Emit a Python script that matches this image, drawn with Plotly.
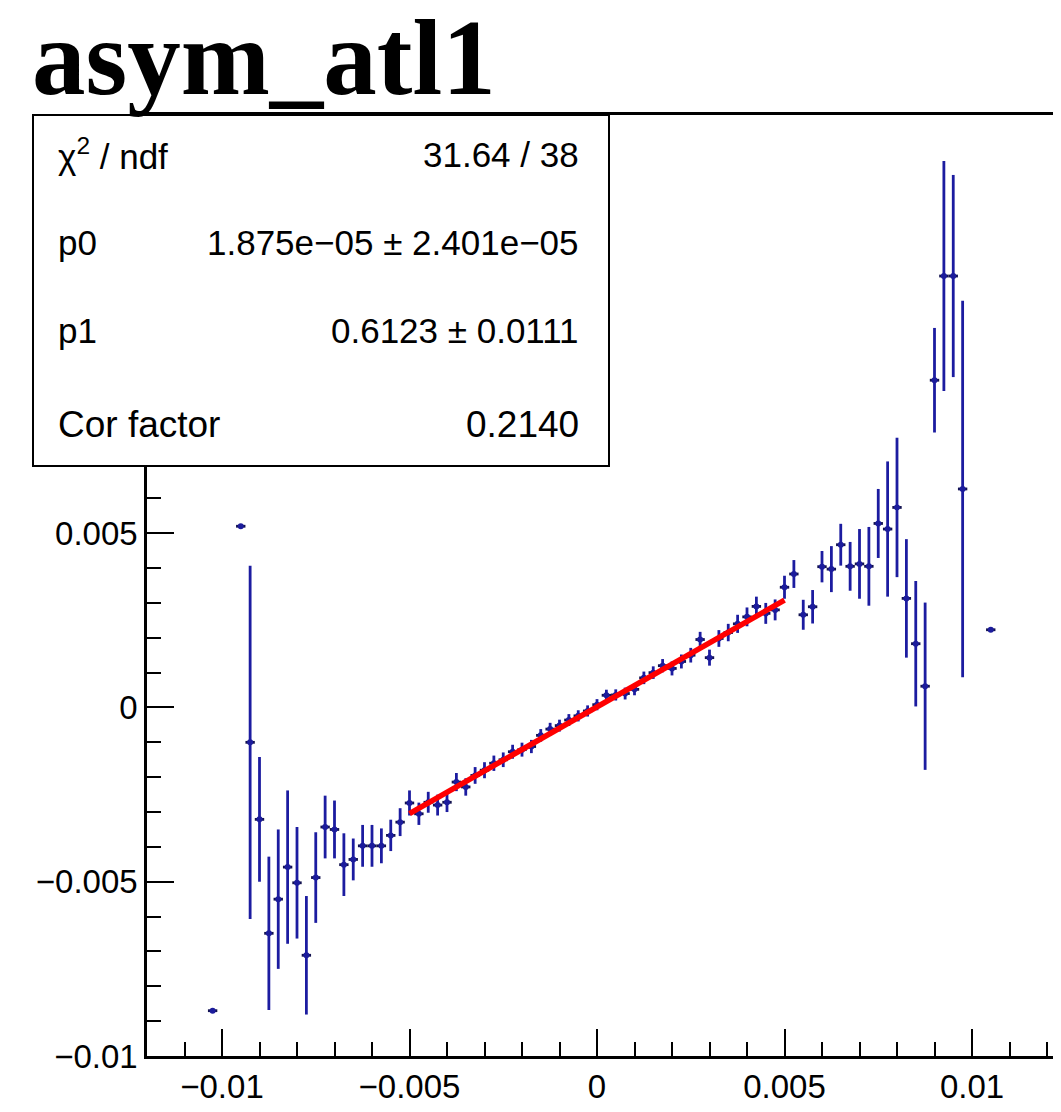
import plotly.graph_objects as go

# ---- data ----
bin_centers = [
    -0.01025, -0.0095, -0.00925, -0.009, -0.00875, -0.0085, -0.00825, -0.008,
    -0.00775, -0.0075, -0.00725, -0.007, -0.00675, -0.0065, -0.00625, -0.006,
    -0.00575, -0.0055, -0.00525, -0.005, -0.00475, -0.0045, -0.00425, -0.004,
    -0.00375, -0.0035, -0.00325, -0.003, -0.00275, -0.0025, -0.00225, -0.002,
    -0.00175, -0.0015, -0.00125, -0.001, -0.00075, -0.0005, -0.00025, 0.0,
    0.00025, 0.0005, 0.00075, 0.001, 0.00125, 0.0015, 0.00175, 0.002,
    0.00225, 0.0025, 0.00275, 0.003, 0.00325, 0.0035, 0.00375, 0.004,
    0.00425, 0.0045, 0.00475, 0.005, 0.00525, 0.0055, 0.00575, 0.006,
    0.00625, 0.0065, 0.00675, 0.007, 0.00725, 0.0075, 0.00775, 0.008,
    0.00825, 0.0085, 0.00875, 0.009, 0.00925, 0.0095, 0.00975, 0.0105,
]
asym_mean = [
    -0.0087, 0.0052, -0.0010, -0.00321, -0.00648, -0.0055, -0.00458, -0.00503,
    -0.00711, -0.00488, -0.00343, -0.0035, -0.00451, -0.00436, -0.00397, -0.00397,
    -0.00397, -0.00367, -0.00329, -0.00274, -0.00305, -0.00272, -0.00280, -0.00272,
    -0.00214, -0.00228, -0.00195, -0.0018, -0.00160, -0.0015, -0.00127, -0.00121,
    -0.00112, -0.00080, -0.00062, -0.00052, -0.00036, -0.00024, -0.00010, 0.00008,
    0.00035, 0.00036, 0.00040, 0.00052, 0.00085, 0.00100, 0.00120, 0.00112,
    0.00132, 0.00150, 0.00195, 0.00143, 0.00198, 0.00215, 0.00240, 0.00260,
    0.00290, 0.00270, 0.00280, 0.00345, 0.00383, 0.00266, 0.00289, 0.00404,
    0.00397, 0.00467, 0.00405, 0.00412, 0.00405, 0.00528, 0.00512, 0.00574,
    0.00313, 0.00183, 0.00061, 0.00939, 0.01238, 0.01238, 0.00627, 0.00223,
]
asym_err = [
    0.0, 0.0, 0.00507, 0.00179, 0.0022, 0.0020, 0.0022, 0.0016,
    0.0017, 0.0013, 0.0009, 0.00083, 0.0009, 0.0006, 0.0006, 0.0006,
    0.0005, 0.00045, 0.0004, 0.00036, 0.00032, 0.0003, 0.0003, 0.00028,
    0.00026, 0.00025, 0.00024, 0.00023, 0.00022, 0.00021, 0.0002, 0.0002,
    0.00019, 0.00018, 0.00018, 0.00017, 0.00017, 0.00016, 0.00016, 0.00016,
    0.00016, 0.00016, 0.00017, 0.00017, 0.00018, 0.00018, 0.00019, 0.0002,
    0.0002, 0.00021, 0.00022, 0.00023, 0.00024, 0.00025, 0.00026, 0.00027,
    0.00028, 0.0003, 0.0003, 0.00033, 0.0004, 0.00043, 0.00048, 0.00045,
    0.00066, 0.0006, 0.0007, 0.0010, 0.00113, 0.00099, 0.00194, 0.0020,
    0.0017, 0.0018, 0.0024, 0.0015, 0.0033, 0.0029, 0.0054, 0.0,
]
bin_half_width = 0.000125

fit_range = [-0.005, 0.005]
p0 = 1.875e-05
p1 = 0.6123

x_tick_vals = [-0.01, -0.005, 0, 0.005, 0.01]
x_tick_text = ["\u22120.01", "\u22120.005", "0", "0.005", "0.01"]
y_tick_vals = [-0.01, -0.005, 0, 0.005]
y_tick_text = ["\u22120.01", "\u22120.005", "0", "0.005"]

stats_labels = ["\u03c7<sup>2</sup> / ndf", "p0", "p1", "Cor factor"]
stats_values = ["31.64 / 38", "1.875e\u221205 \u00b1 2.401e\u221205",
                "0.6123 \u00b1 0.0111", "0.2140"]
title_text = "asym_atl1"

# ---- figure (page body has an 8px margin, so the figure is shifted) ----
OFF = 8
W, H = 1061 - OFF, 1112 - OFF
ML, MR, MT = 147 - OFF, 0, 115 - OFF
MB = H - (1056 - OFF)
PW, PH = W - ML - MR, H - MT - MB
x_min = -0.012
x_max = x_min + PW / 37500.0
y_min, y_max = -0.01, 0.017


def px_x(px):
    return (px - OFF - ML) / PW


def px_y(py):
    return (H - MB - (py - OFF)) / PH


fig = go.Figure()

fig.add_trace(go.Scatter(
    x=bin_centers, y=asym_mean, mode="markers",
    marker=dict(size=0, color="#1c1c9c"),
    error_x=dict(type="constant", value=bin_half_width, width=0,
                 thickness=2.8, color="#121250"),
    error_y=dict(type="data", array=asym_err, width=0,
                 thickness=2.8, color="#1c1ca0"),
    showlegend=False, hoverinfo="skip",
))

fit_y = [p0 + p1 * v for v in fit_range]
fig.add_trace(go.Scatter(
    x=fit_range, y=fit_y, mode="lines",
    line=dict(color="#ff0000", width=5.5),
    showlegend=False, hoverinfo="skip",
))

axis_font = dict(family="Liberation Sans, Arial, sans-serif", size=33, color="black")

fig.update_xaxes(
    range=[x_min, x_max], showgrid=False, zeroline=False,
    showline=True, linecolor="black", linewidth=2.5, mirror=True,
    tickmode="array", tickvals=x_tick_vals, ticktext=x_tick_text,
    ticks="inside", ticklen=27, tickwidth=2, tickcolor="black",
    minor=dict(tickmode="linear", tick0=0, dtick=0.001, ticks="inside",
               ticklen=14, tickwidth=2, tickcolor="black"),
    tickfont=axis_font, ticklabelstandoff=0,
)
fig.update_yaxes(
    range=[y_min, y_max], showgrid=False, zeroline=False,
    showline=True, linecolor="black", linewidth=2.5, mirror=False,
    tickmode="array", tickvals=y_tick_vals, ticktext=y_tick_text,
    ticks="inside", ticklen=27, tickwidth=2, tickcolor="black",
    minor=dict(tickmode="linear", tick0=0, dtick=0.001, ticks="inside",
               ticklen=14, tickwidth=2, tickcolor="black"),
    tickfont=axis_font, ticklabelstandoff=0,
)

# stats box
fig.add_shape(type="rect", xref="paper", yref="paper",
              x0=px_x(33), x1=px_x(609), y0=px_y(466), y1=px_y(115),
              fillcolor="white", line=dict(color="black", width=2), layer="above")

row_y = [154, 242, 330, 424]
row_size = [35, 35, 35, 37]
for lab, val, ry, fs in zip(stats_labels, stats_values, row_y, row_size):
    f = dict(family="Liberation Sans, Arial, sans-serif", size=fs, color="black")
    fig.add_annotation(text=lab, xref="paper", yref="paper", x=px_x(56), y=px_y(ry),
                       xanchor="left", yanchor="middle", showarrow=False, font=f)
    fig.add_annotation(text=val, xref="paper", yref="paper", x=px_x(581), y=px_y(ry),
                       xanchor="right", yanchor="middle", showarrow=False, font=f)

fig.add_annotation(text=title_text, xref="paper", yref="paper", x=px_x(30), y=px_y(58),
                   xanchor="left", yanchor="middle", showarrow=False,
                   font=dict(family="Liberation Serif, Times New Roman, serif", size=107,
                             color="black", weight="bold"))

fig.update_layout(
    width=W, height=H, autosize=False,
    margin=dict(l=ML, r=MR, t=MT, b=MB, pad=0),
    paper_bgcolor="white", plot_bgcolor="white",
    showlegend=False,
)

fig.write_html("out.html", config={"displayModeBar": False})
